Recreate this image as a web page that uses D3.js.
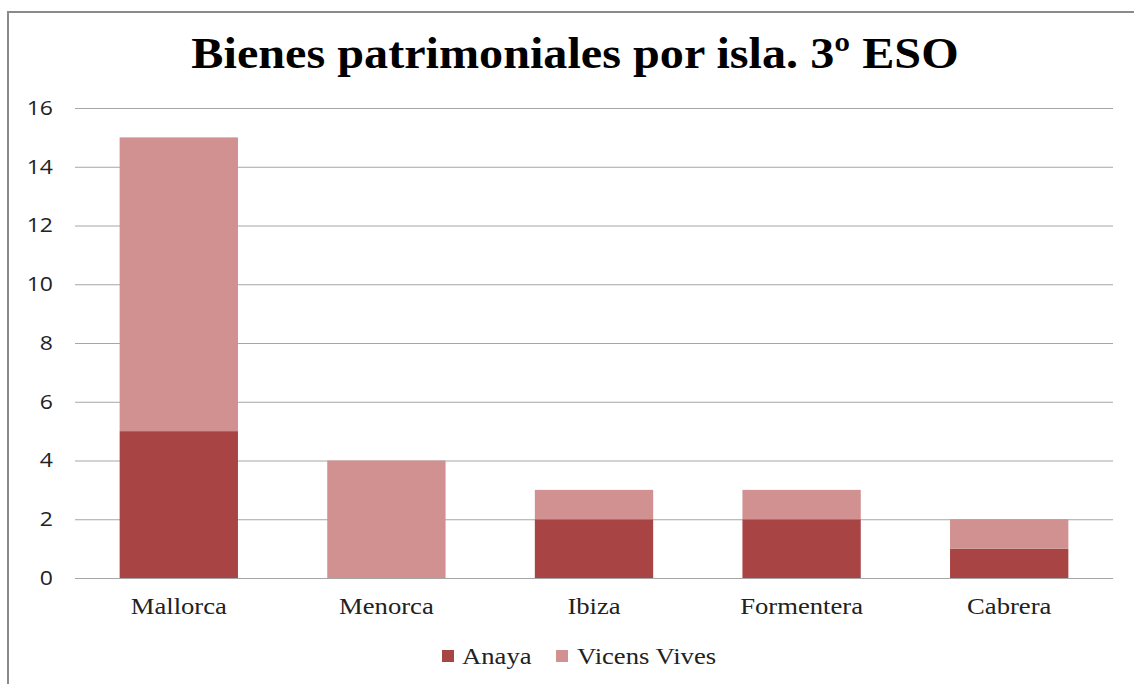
<!DOCTYPE html>
<html><head><meta charset="utf-8">
<script src="https://cdn.jsdelivr.net/npm/d3@7"></script>
<style>body{margin:0;background:#fff}svg{display:block}</style>
</head><body>
<script>
const categories = ["Mallorca", "Menorca", "Ibiza", "Formentera", "Cabrera"];
const anaya = [5, 0, 2, 2, 1];
const vicensVives = [10, 4, 1, 1, 1];
const seriesNames = ["Anaya", "Vicens Vives"];
const seriesColors = ["#A84544", "#D19190"];
const yTicks = [0, 2, 4, 6, 8, 10, 12, 14, 16];
const chartTitle = "Bienes patrimoniales por isla. 3º ESO";

(function(){
const W = 1134, H = 684;
const serif = "Liberation Serif, Times New Roman, serif";
const svg = d3.select("body").append("svg").attr("width", W).attr("height", H);

function stretch(sel, k) {
  sel.each(function() {
    const len = this.getComputedTextLength();
    d3.select(this).attr("textLength", len * k).attr("lengthAdjust", "spacingAndGlyphs");
  });
}

svg.append("path").attr("d", `M8,${H+5} L8,12 L${W+5},12`)
  .attr("fill", "none").attr("stroke", "#8a8a8a").attr("stroke-width", 2);

svg.append("text").attr("x", 575).attr("y", 68).attr("text-anchor", "middle")
  .attr("font-family", serif).attr("font-weight", "bold")
  .attr("font-size", 44).attr("fill", "#000").text(chartTitle)
  .call(stretch, 1.095);

const mLeft = 75, mRight = 1113, mTop = 108, mBottom = 578;
const x = d3.scaleBand().domain(categories).range([mLeft, mRight]).paddingInner(0.43).paddingOuter(0.215);
const y = d3.scaleLinear().domain([0, 16]).range([mBottom, mTop]);

svg.append("g").selectAll("line").data(yTicks).join("line")
  .attr("x1", mLeft).attr("x2", mRight)
  .attr("y1", d => y(d) + 0.5).attr("y2", d => y(d) + 0.5)
  .attr("stroke", "#a6a6a6").attr("stroke-width", 1);

const yAxis = d3.axisLeft(y).tickValues(yTicks).tickSize(0).tickPadding(0);
const ya = svg.append("g").attr("transform", `translate(53,0)`).call(yAxis);
ya.select(".domain").remove();
ya.selectAll("text").attr("font-family", "Open Sans, Noto Sans, sans-serif").attr("font-size", 20).attr("fill", "#222")
  .call(stretch, 1.15);

const data = categories.map((c, i) => ({cat: c, Anaya: anaya[i], "Vicens Vives": vicensVives[i]}));
const stack = d3.stack().keys(seriesNames)(data);
svg.append("g").selectAll("g").data(stack).join("g")
  .attr("fill", (d, i) => seriesColors[i])
  .selectAll("rect").data(d => d).join("rect")
  .attr("x", d => x(d.data.cat))
  .attr("width", x.bandwidth())
  .attr("y", d => y(d[1]))
  .attr("height", d => y(d[0]) - y(d[1]));

const xAxis = d3.axisBottom(x).tickSize(0).tickPadding(0);
const xa = svg.append("g").attr("transform", `translate(0,${mBottom + 36})`).call(xAxis);
xa.select(".domain").remove();
xa.selectAll("text").attr("font-family", serif).attr("font-size", 24).attr("fill", "#222").attr("dy", "0")
  .call(stretch, 1.11);

const legendItems = [{x: 442, tx: 462}, {x: 556, tx: 577}];
const lg = svg.append("g");
seriesNames.forEach((s, i) => {
  lg.append("rect").attr("x", legendItems[i].x).attr("y", 650).attr("width", 12).attr("height", 12).attr("fill", seriesColors[i]);
  lg.append("text").attr("x", legendItems[i].tx).attr("y", 664)
    .attr("font-family", serif).attr("font-size", 24).attr("fill", "#222").text(s)
    .call(stretch, 1.11);
});
})();
</script>
</body></html>
